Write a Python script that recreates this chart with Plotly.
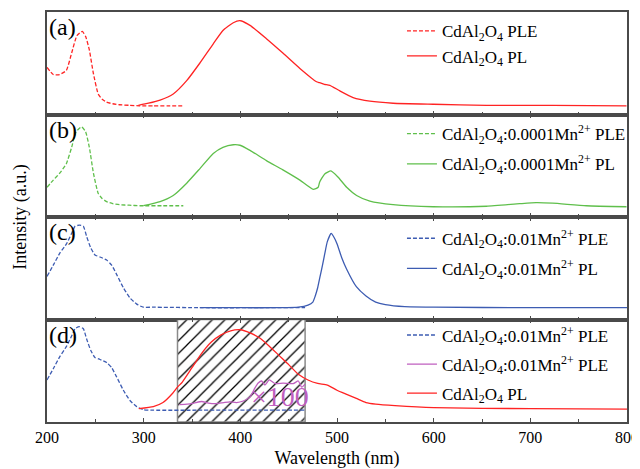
import plotly.graph_objects as go
from plotly.subplots import make_subplots

# ---------------- data ----------------
wl_ticks = [200, 300, 400, 500, 600, 700, 800]

# panel (a)
pleA_x = [200, 206.5, 213, 220, 225.5, 231, 236.5, 240, 243.8, 248, 253, 257, 261.7, 268, 275, 285, 296, 310, 325, 341]
pleA_y = [0.46, 0.39, 0.39, 0.43, 0.60, 0.77, 0.81, 0.76, 0.63, 0.40, 0.20, 0.15, 0.12, 0.105, 0.095, 0.09, 0.085, 0.085, 0.085, 0.085]
plA_x = [294.5, 305, 317, 330.6, 344.5, 358, 372, 382, 392.7, 399.6, 410, 427, 444, 461.6, 478.8, 482, 487, 492.6, 503, 516.7, 534, 558, 599.5, 654.7, 723, 799.5]
plA_y = [0.09, 0.11, 0.14, 0.20, 0.33, 0.50, 0.69, 0.82, 0.895, 0.915, 0.87, 0.74, 0.60, 0.45, 0.32, 0.31, 0.295, 0.285, 0.23, 0.165, 0.13, 0.11, 0.10, 0.09, 0.09, 0.085]

# panel (b)
pleB_x = [200, 206.5, 213.4, 220, 225.5, 230, 235.8, 240, 243.8, 248, 253, 257, 261.7, 268, 275, 285, 296, 320, 341]
pleB_y = [0.29, 0.36, 0.43, 0.52, 0.68, 0.83, 0.88, 0.83, 0.68, 0.43, 0.23, 0.18, 0.15, 0.13, 0.12, 0.115, 0.11, 0.11, 0.11]
plB_x = [299.6, 317, 330.6, 344.5, 358, 372, 382, 392.7, 399.6, 410, 427, 444, 461.6, 475.4, 480.5, 482, 487.3, 493.7, 501, 510, 520.3, 534, 558, 599.5, 654.7, 689, 706, 723, 758, 799.5]
plB_y = [0.11, 0.15, 0.21, 0.33, 0.47, 0.62, 0.68, 0.705, 0.70, 0.65, 0.55, 0.46, 0.36, 0.27, 0.29, 0.34, 0.42, 0.45, 0.39, 0.29, 0.21, 0.155, 0.12, 0.10, 0.105, 0.13, 0.14, 0.135, 0.11, 0.10]

# panel (c)
pleC_x = [200, 206.5, 213.4, 220.3, 225.5, 229, 233.4, 237.6, 241, 245.2, 249.6, 254.8, 261.7, 266.9, 272, 279, 285.8, 292.8, 299.6, 310, 360, 420, 467]
pleC_y = [0.42, 0.53, 0.65, 0.74, 0.84, 0.91, 0.92, 0.91, 0.81, 0.70, 0.63, 0.61, 0.58, 0.53, 0.44, 0.31, 0.21, 0.15, 0.12, 0.12, 0.115, 0.115, 0.115]
plC_x = [358, 400, 440, 460, 470, 475, 477.5, 480, 482.5, 485, 487.5, 490, 494, 497, 500, 505, 510, 520, 530, 540, 550, 570, 600, 700, 800]
plC_y = [0.115, 0.115, 0.115, 0.12, 0.14, 0.17, 0.23, 0.31, 0.42, 0.53, 0.65, 0.76, 0.84, 0.80, 0.74, 0.60, 0.49, 0.32, 0.23, 0.17, 0.145, 0.125, 0.12, 0.115, 0.115]

# panel (d)
pleD_x = [200, 206.5, 213.4, 220.3, 225.5, 229, 233.4, 237.6, 241, 245.2, 249.6, 254.8, 261.7, 266.9, 272, 279, 285.8, 292.8, 299.6, 310, 360, 420, 467]
pleD_y = [0.41, 0.52, 0.64, 0.74, 0.84, 0.91, 0.93, 0.91, 0.81, 0.70, 0.63, 0.61, 0.58, 0.53, 0.44, 0.31, 0.21, 0.15, 0.12, 0.115, 0.115, 0.115, 0.115]
mag_x = [337, 345, 352, 360, 367, 375, 383, 389, 396, 403, 410, 415, 418.5, 422, 425.4, 430, 435.8, 444.4, 454.7, 460, 463.4, 467]
mag_y = [0.17, 0.175, 0.185, 0.20, 0.185, 0.18, 0.19, 0.196, 0.19, 0.205, 0.245, 0.33, 0.38, 0.40, 0.36, 0.41, 0.375, 0.38, 0.375, 0.40, 0.34, 0.37]
plD_x = [295, 310, 320, 330, 335, 340, 350, 360, 370, 380, 390, 400, 410, 420, 430, 440, 450, 460, 470, 480, 490, 500, 510, 520, 530, 540, 560, 600, 700, 800]
plD_y = [0.13, 0.15, 0.19, 0.28, 0.34, 0.39, 0.53, 0.67, 0.78, 0.85, 0.89, 0.90, 0.87, 0.82, 0.74, 0.65, 0.56, 0.465, 0.41, 0.376, 0.36, 0.31, 0.27, 0.23, 0.19, 0.175, 0.16, 0.14, 0.13, 0.125]
hatch_x = [335, 467]
panel_y = [0, 1]

labels = ["(a)", "(b)", "(c)", "(d)"]
names_a = ["CdAl<sub>2</sub>O<sub>4</sub> PLE", "CdAl<sub>2</sub>O<sub>4</sub> PL"]
names_b = ["CdAl<sub>2</sub>O<sub>4</sub>:0.0001Mn<sup>2+</sup> PLE", "CdAl<sub>2</sub>O<sub>4</sub>:0.0001Mn<sup>2+</sup> PL"]
names_c = ["CdAl<sub>2</sub>O<sub>4</sub>:0.01Mn<sup>2+</sup> PLE", "CdAl<sub>2</sub>O<sub>4</sub>:0.01Mn<sup>2+</sup> PL"]
names_d = ["CdAl<sub>2</sub>O<sub>4</sub>:0.01Mn<sup>2+</sup> PLE", "CdAl<sub>2</sub>O<sub>4</sub>:0.01Mn<sup>2+</sup> PLE", "CdAl<sub>2</sub>O<sub>4</sub> PL"]

# ---------------- styling ----------------
FONT = "Liberation Serif"
RED = "#ff2323"
GREEN = "#5fbf4b"
BLUE = "#3d5cb2"
MAG = "#bf5fbf"
AX = "#4a4a4a"
DASH = "4px,2px"
LW = 1.3

fig = make_subplots(rows=4, cols=1, shared_xaxes=True, vertical_spacing=0)

def add(row, x, y, color, dash, name, legend, group):
    fig.add_trace(go.Scatter(x=x, y=y, mode="lines", name=name,
                             line=dict(color=color, width=LW, dash=dash, shape="spline", smoothing=0.5),
                             legend=legend, legendgroup=group), row=row, col=1)

add(1, pleA_x, pleA_y, RED, DASH, names_a[0], "legend", "a1")
add(1, plA_x, plA_y, RED, "solid", names_a[1], "legend", "a2")
add(2, pleB_x, pleB_y, GREEN, DASH, names_b[0], "legend2", "b1")
add(2, plB_x, plB_y, GREEN, "solid", names_b[1], "legend2", "b2")
add(3, pleC_x, pleC_y, BLUE, DASH, names_c[0], "legend3", "c1")
add(3, plC_x, plC_y, BLUE, "solid", names_c[1], "legend3", "c2")

# hatched region in panel (d)
fig.add_trace(go.Scatter(x=[hatch_x[0], hatch_x[1], hatch_x[1], hatch_x[0], hatch_x[0]],
                         y=[panel_y[0], panel_y[0], panel_y[1], panel_y[1], panel_y[0]],
                         mode="lines", fill="toself", line=dict(color="#8a8a8a", width=1.5),
                         fillcolor="white",
                         fillpattern=dict(shape="/", fgcolor="black", fgopacity=1, bgcolor="white",
                                          size=9, solidity=0.14),
                         showlegend=False, hoverinfo="skip"), row=4, col=1)
add(4, pleD_x, pleD_y, BLUE, DASH, names_d[0], "legend4", "d1")
add(4, mag_x, mag_y, MAG, "solid", names_d[1], "legend4", "d2")
add(4, plD_x, plD_y, RED, "solid", names_d[2], "legend4", "d3")

xcommon = dict(range=[200, 800], showgrid=False, zeroline=False, showline=True, linecolor=AX, linewidth=1.5,
               tickvals=wl_ticks, ticks="inside", ticklen=4, tickwidth=1.2, tickcolor=AX,
               minor=dict(dtick=50, tick0=200, ticks="inside", ticklen=3, tickwidth=1.2, tickcolor=AX),
               tickfont=dict(family=FONT, size=16, color="black"))
for i in range(1, 5):
    xa = dict(xcommon)
    xa["mirror"] = True if i == 1 else "ticks"
    fig.update_xaxes(**xa, row=i, col=1)
    fig.update_yaxes(range=[0, 1], showgrid=False, zeroline=False, showline=True, linecolor=AX, linewidth=1.5,
                     mirror=True, ticks="", showticklabels=False, row=i, col=1)

fig.update_xaxes(title=dict(text="Wavelength (nm)", font=dict(family=FONT, size=18, color="black"), standoff=8),
                 row=4, col=1)

# panel labels
for i, lab in enumerate(labels):
    ax = "" if i == 0 else str(i + 1)
    fig.add_annotation(text=lab, xref=f"x{ax} domain", yref=f"y{ax} domain", x=0.0, y=0.85,
                       xanchor="left", yanchor="middle", showarrow=False,
                       font=dict(family=FONT, size=24, color="black"))

# x100 label
fig.add_annotation(text="×100", x=441, y=0.25, xref="x4", yref="y4", showarrow=False,
                   xanchor="center", yanchor="middle", font=dict(family=FONT, size=28, color=MAG))

# y title
fig.add_annotation(text="Intensity (a.u.)", xref="paper", yref="paper", x=-0.047, y=0.5,
                   textangle=-90, showarrow=False, xanchor="center", yanchor="middle",
                   font=dict(family=FONT, size=18, color="black"))

leg = dict(xanchor="left", yanchor="top", bgcolor="rgba(0,0,0,0)", borderwidth=0,
           font=dict(family=FONT, size=17, color="black"), traceorder="grouped", itemclick=False)
# the page body adds an 8px offset, so the margins are shifted by 8px
fig.update_layout(
    width=640, height=461,
    margin=dict(l=39, r=21, t=4, b=47, autoexpand=False),
    paper_bgcolor="white", plot_bgcolor="white",
    font=dict(family=FONT, color="black"),
    legend=dict(leg, x=0.612, y=0.997, tracegroupgap=0),
    legend2=dict(leg, x=0.612, y=0.746, tracegroupgap=5),
    legend3=dict(leg, x=0.612, y=0.491, tracegroupgap=5),
    legend4=dict(leg, x=0.612, y=0.255, tracegroupgap=4),
)

fig.write_html("out.html")
